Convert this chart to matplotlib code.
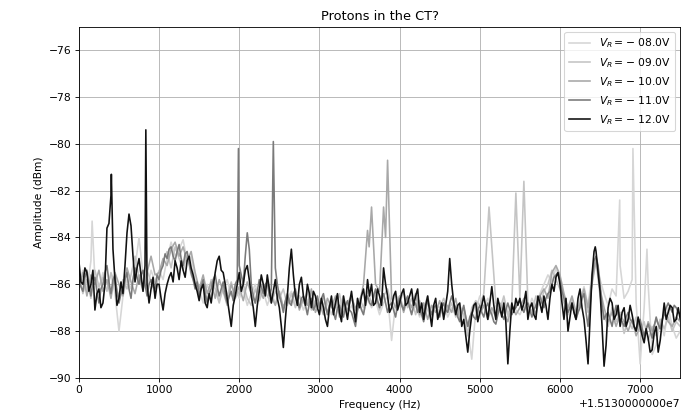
import numpy as np
import matplotlib
matplotlib.use("Agg")
import matplotlib.pyplot as plt
from matplotlib.ticker import ScalarFormatter

# ================= DATA =================
f0 = 15130000.0
freq_offsets = np.arange(0, 7501, 50)   # analyser grid, Hz above f0
mid_offsets = np.arange(25, 7500, 50)   # in-between points, only read for the darker traces

labels = ["08.0", "09.0", "10.0", "11.0", "12.0"]
colors = ["#d6d6d6", "#c4c4c4", "#a8a8a8", "#7a7a7a", "#111111"]

amp_08 = [
    -86.0, -85.4, -86.3, -85.0, -85.8, -86.2, -85.5, -86.0, -85.6, -86.4,
    -88.0, -86.5, -85.8, -86.2, -85.3, -84.0, -85.6, -86.2, -85.4, -85.9,
    -85.4, -85.8, -84.9, -84.2, -84.8, -84.5, -84.1, -85.0, -84.8, -85.8,
    -86.2, -86.8, -86.0, -86.5, -85.9, -86.7, -86.2, -85.8, -86.5, -86.1,
    -86.6, -86.2, -86.9, -86.4, -86.0, -86.7, -86.3, -86.9, -86.4, -86.8,
    -86.4, -87.0, -86.6, -86.3, -86.9, -86.5, -87.1, -86.7, -86.4, -87.0,
    -86.6, -87.1, -86.8, -87.3, -86.7, -87.0, -86.5, -87.2, -86.9, -87.4,
    -86.9, -87.2, -86.6, -87.0, -86.7, -87.3, -86.8, -86.5, -88.4, -86.8,
    -86.5, -87.0, -86.6, -87.2, -86.9, -87.4, -86.8, -87.1, -87.5, -86.9,
    -87.2, -86.8, -87.4, -87.0, -87.3, -86.9, -87.5, -88.0, -89.2, -87.1,
    -86.5, -87.0, -86.6, -87.3, -86.9, -87.2, -86.7, -87.4, -86.9, -87.1,
    -87.3, -86.9, -87.2, -86.6, -87.0, -86.4, -86.0, -85.6, -85.9, -85.3,
    -85.8, -86.5, -87.1, -86.7, -87.3, -86.6, -86.1, -86.9, -85.5, -84.9,
    -85.8, -86.4, -86.9, -86.2, -86.5, -85.2, -86.6, -86.3, -85.8, -86.8,
    -89.4, -87.0, -86.0, -89.0, -88.6, -87.5, -88.2, -87.0, -87.8, -88.3,
    -88.0,
]
amp_09 = [
    -85.6, -86.4, -85.8, -86.6, -85.4, -86.1, -85.7, -86.3, -85.5, -86.0,
    -86.5, -85.8, -86.2, -85.6, -84.8, -85.7, -86.3, -85.4, -85.9, -86.4,
    -85.6, -85.0, -84.6, -85.3, -84.4, -84.9, -85.4, -84.7, -85.6, -86.0,
    -86.4, -86.0, -86.7, -85.8, -86.2, -86.8, -86.1, -86.5, -85.9, -86.6,
    -86.3, -86.0, -86.6, -86.9, -86.2, -86.7, -86.0, -86.5, -86.8, -86.3,
    -86.6, -86.2, -86.9, -86.4, -87.0, -86.5, -86.8, -86.3, -87.1, -86.7,
    -86.9, -86.5, -87.2, -86.7, -87.0, -86.4, -87.3, -86.8, -86.5, -87.1,
    -86.6, -87.0, -86.3, -86.8, -86.4, -87.1, -86.5, -86.2, -86.9, -86.4,
    -86.8, -86.3, -87.0, -86.6, -87.3, -86.7, -87.1, -86.5, -87.4, -86.9,
    -87.0, -86.6, -87.2, -86.8, -87.4, -86.9, -87.3, -88.2, -87.0, -86.7,
    -86.9, -86.4, -83.6, -84.4, -86.8, -87.1, -86.5, -87.3, -86.8, -82.1,
    -86.6, -81.6, -86.8, -87.2, -86.5, -86.9, -86.3, -86.0, -85.4, -85.8,
    -86.2, -86.8, -87.3, -86.6, -87.5, -86.9, -86.4, -87.2, -86.0, -85.0,
    -86.5, -87.3, -87.8, -87.0, -87.6, -87.2, -88.1, -87.5, -87.9, -87.4,
    -88.0, -87.6, -88.4, -87.8, -88.2, -87.5, -87.9, -87.4, -88.0, -87.6,
    -87.8,
]
amp_10 = [
    -86.2, -85.5, -86.5, -85.6, -86.0, -85.4, -86.3, -85.8, -86.6, -85.5,
    -86.0, -86.5, -85.3, -85.9, -86.4, -85.6, -86.2, -85.5, -84.8, -85.6,
    -85.5, -84.9, -85.2, -84.5, -84.2, -84.8, -84.4, -85.0, -84.6, -85.5,
    -86.2, -85.6, -86.4, -85.9, -86.6, -85.8, -86.3, -86.9, -86.0, -86.5,
    -86.1, -86.7, -85.9, -86.4, -86.8, -86.2, -86.6, -85.8, -86.5, -86.9,
    -86.3, -87.0, -86.5, -86.8, -86.3, -87.1, -86.6, -86.9, -86.2, -87.2,
    -86.8, -87.3, -86.6, -87.0, -86.5, -87.4, -86.8, -87.1, -86.6, -87.0,
    -86.8, -86.0, -83.7, -82.7, -86.0, -86.3, -82.7, -80.7, -86.6, -87.0,
    -86.5, -87.2, -86.6, -87.0, -86.4, -87.3, -86.8, -87.5, -86.9, -87.2,
    -86.7, -87.4, -86.9, -87.2, -86.6, -87.5, -87.0, -87.8, -87.3, -86.8,
    -87.3, -86.9, -87.5, -87.0, -87.4, -86.8, -87.2, -87.6, -86.9, -87.3,
    -87.0, -86.6, -87.2, -86.8, -87.3, -86.5, -86.2, -86.6, -85.5, -85.2,
    -85.6, -86.4, -87.0, -86.5, -87.2, -86.8, -86.2, -87.0, -85.9, -84.9,
    -86.2, -87.0, -87.6, -87.2, -87.8, -87.3, -87.6, -88.0, -87.5, -88.2,
    -87.8, -88.3, -87.6, -88.0, -87.5, -87.9, -87.2, -87.6, -87.8, -87.4,
    -87.6,
]
amp_11 = [
    -85.8, -86.3, -85.4, -86.5, -85.7, -86.8, -86.0, -85.2, -86.4, -85.6,
    -86.8, -86.2, -85.5, -86.6, -85.3, -86.0, -85.4, -86.5, -85.8, -86.2,
    -85.8, -85.2, -84.9, -84.4, -85.0, -84.3, -85.2, -84.6, -85.5, -86.2,
    -86.5, -85.8, -86.8, -86.2, -85.6, -86.5, -85.9, -86.8, -86.3, -86.0,
    -85.2, -86.0, -83.8, -86.0, -86.8, -85.8, -86.4, -85.9, -86.2, -85.3,
    -86.5, -87.2, -86.4, -86.9, -86.2, -87.0, -86.5, -87.3, -86.6, -86.9,
    -87.0, -86.4, -87.3, -86.8, -87.5, -86.9, -87.4, -86.7, -87.2, -87.8,
    -86.8, -87.3, -86.5, -86.9, -86.2, -87.0, -86.4, -87.2, -86.8, -87.4,
    -86.6, -87.1, -86.5, -87.3, -86.8, -87.0, -87.6, -86.7, -87.3, -86.9,
    -87.4, -86.8, -87.2, -86.5, -87.0, -87.6, -86.9, -87.8, -87.2, -87.5,
    -86.9, -87.4, -86.8, -87.3, -87.7, -87.0, -87.5, -86.8, -87.3, -87.0,
    -86.7, -87.2, -86.8, -87.4, -86.9, -86.5, -87.0, -86.4, -86.0, -85.6,
    -85.8, -86.6, -87.2, -86.8, -87.5, -87.0, -86.4, -87.8, -85.8, -84.8,
    -86.0, -87.5, -87.2, -87.8, -86.9, -87.5, -87.8, -87.2, -87.6, -88.0,
    -87.5, -88.2, -87.7, -88.3, -87.4, -87.9, -87.3, -86.8, -87.2, -87.0,
    -87.3,
]
mid_11 = [
    -86.1, -85.7, -86.0, -85.9, -86.3, -86.2, -85.5, -85.9, -85.8, -86.3,
    -86.4, -85.8, -86.2, -85.8, -85.7, -85.6, -86.0, -86.0, -86.1, -85.6,
    -85.4, -84.7, -84.5, -84.8, -84.6, -84.9, -84.7, -85.1, -85.8, -85.9,
    -86.1, -86.4, -86.4, -85.8, -86.1, -86.2, -86.4, -86.5, -86.7, -85.8,
    -85.6, -84.8, -84.5, -86.5, -86.3, -86.1, -86.0, -86.5, -79.9, -86.0,
    -86.8, -86.7, -86.8, -86.4, -86.7, -86.6, -86.9, -86.8, -87.1, -86.5,
    -86.6, -86.9, -86.9, -87.2, -87.0, -87.2, -86.9, -87.1, -87.5, -87.1,
    -87.1, -86.8, -86.8, -86.5, -86.7, -86.6, -86.8, -86.9, -87.1, -86.9,
    -86.9, -86.7, -87.0, -86.9, -87.2, -87.3, -87.1, -87.0, -87.0, -87.2,
    -87.0, -87.1, -86.8, -86.8, -87.4, -87.2, -87.4, -87.4, -87.4, -87.1,
    -87.2, -87.0, -87.1, -87.6, -87.3, -87.3, -87.1, -87.1, -87.1, -86.8,
    -87.0, -86.9, -87.1, -87.1, -86.6, -86.8, -86.6, -86.3, -85.7, -85.5,
    -86.3, -86.9, -87.0, -87.2, -87.2, -86.6, -87.2, -86.9, -85.0, -85.2,
    -86.9, -87.3, -87.5, -87.3, -87.3, -87.6, -87.4, -87.5, -87.8, -87.7,
    -87.9, -87.9, -88.0, -87.8, -87.7, -87.5, -87.0, -87.0, -86.9, -87.2,
]
amp_12 = [
    -85.0, -86.0, -85.5, -86.0, -87.1, -86.2, -86.8, -83.6, -82.2, -85.8,
    -86.6, -86.4, -83.8, -83.5, -85.9, -84.9, -86.3, -86.0, -86.2, -86.6,
    -86.0, -87.1, -86.0, -85.5, -85.0, -85.8, -85.4, -85.0, -85.3, -86.0,
    -86.7, -86.0, -87.0, -86.8, -85.5, -84.8, -85.5, -86.6, -87.8, -86.5,
    -85.5, -86.0, -85.2, -86.5, -87.8, -86.3, -86.0, -85.6, -86.8, -85.8,
    -87.0, -88.7, -86.5, -84.5, -86.5, -86.0, -86.5, -86.0, -87.0, -86.5,
    -87.3, -87.0, -87.8, -86.5, -86.8, -87.2, -86.5, -87.5, -86.3, -87.6,
    -87.0, -86.2, -85.8, -86.0, -86.8, -86.5, -85.3, -86.5, -87.0, -86.3,
    -86.8, -86.2, -86.8, -86.2, -86.5, -87.2, -87.5, -86.5, -87.8, -86.6,
    -87.2, -87.5, -86.3, -86.0, -87.3, -86.8, -87.5, -88.9, -87.3, -86.8,
    -87.2, -86.5, -87.5, -86.1, -87.5, -87.0, -86.8, -89.4, -86.8, -86.6,
    -86.6, -86.8, -87.5, -86.8, -87.5, -86.8, -86.5, -87.5, -86.0, -85.7,
    -86.0, -87.5, -88.0, -86.8, -87.5, -86.2, -87.5, -89.4, -85.6, -84.6,
    -86.3, -89.5, -87.0, -86.8, -87.3, -87.8, -87.0, -87.5, -87.3, -88.0,
    -87.8, -88.5, -88.3, -88.8, -87.8, -88.4, -86.8, -87.2, -87.0, -87.5,
    -87.5,
]
mid_12 = [
    -85.9, -85.3, -86.3, -85.4, -86.4, -87.0, -86.0, -83.4, -84.5, -86.9,
    -85.9, -85.2, -83.0, -84.8, -85.3, -85.6, -85.2, -86.8, -85.7, -86.0,
    -86.6, -86.4, -85.7, -85.9, -85.3, -85.0, -85.7, -84.8, -85.6, -86.3,
    -86.2, -86.8, -86.4, -86.1, -85.0, -85.4, -86.0, -87.2, -86.9, -86.0,
    -86.3, -85.4, -85.8, -87.0, -86.9, -85.6, -86.5, -86.2, -86.3, -86.6,
    -87.8, -87.5, -85.3, -85.6, -86.9, -85.7, -86.9, -86.4, -86.3, -87.0,
    -86.6, -87.5, -87.0, -87.3, -86.4, -87.6, -87.0, -86.8, -87.0, -86.6,
    -86.5, -86.9, -86.5, -86.9, -86.2, -86.9, -86.0, -87.2, -86.5, -87.1,
    -86.4, -86.9, -86.5, -86.9, -86.2, -86.8, -86.9, -87.2, -86.9, -87.5,
    -86.8, -86.9, -84.9, -86.8, -86.9, -87.8, -88.2, -88.0, -86.9, -87.6,
    -86.9, -87.0, -86.8, -86.9, -86.6, -87.4, -87.6, -88.0, -87.2, -86.9,
    -87.1, -86.3, -87.0, -87.3, -86.5, -87.2, -86.9, -86.6, -86.3, -85.5,
    -86.8, -86.6, -87.4, -87.2, -86.6, -87.0, -88.4, -87.5, -84.6, -85.5,
    -87.8, -88.6, -86.6, -87.5, -86.9, -87.2, -87.8, -86.9, -87.8, -87.4,
    -88.2, -87.9, -88.9, -88.1, -88.9, -87.6, -87.5, -86.9, -87.6, -87.0,
]

# narrow lines that sit off the grid (offset Hz, amplitude dBm)
peak_f_08 = [165, 6745, 6910, 7085]
peak_a_08 = [-83.3, -82.4, -80.2, -84.5]
peak_f_09 = [5115]
peak_a_09 = [-82.7]
peak_f_10 = [3620, 3825]
peak_a_10 = [-84.4, -84.0]
peak_f_11 = [1990]
peak_a_11 = [-80.2]
peak_f_12 = [405, 835, 6440]
peak_a_12 = [-81.3, -79.4, -84.4]

series = [
    (amp_08, [], peak_f_08, peak_a_08),
    (amp_09, [], peak_f_09, peak_a_09),
    (amp_10, [], peak_f_10, peak_a_10),
    (amp_11, mid_11, peak_f_11, peak_a_11),
    (amp_12, mid_12, peak_f_12, peak_a_12),
]


class OldOffsetFormatter(ScalarFormatter):
    # offset written like "+1.5130000000e7"
    def format_data(self, value):
        mant, exp = ("%1.10e" % value).split("e")
        return "%se%d" % (mant, int(exp))


# ================= PLOT =================
# the reference looks like a bigger figure shrunk down, so use a low dpi
dpi = 77.5
fig = plt.figure(figsize=(692 / dpi, 413 / dpi), dpi=dpi)
ax = fig.add_axes([0.114, 0.085, 0.869, 0.85])

for (amps, mids, pf, pa), lab, col in zip(series, labels, colors):
    xm = mid_offsets if len(mids) else []
    x = np.concatenate([freq_offsets, xm, pf]).astype(float)
    y = np.concatenate([amps, mids, pa])
    order = np.argsort(x, kind="stable")
    ax.plot(f0 + x[order], y[order], color=col, lw=1.5,
            label=r"$V_R = -$ " + lab + "V")

ax.set_xlim(f0, f0 + 7500)
ax.set_ylim(-90, -75)
ax.set_yticks(np.arange(-90, -75, 2))
ax.xaxis.set_major_formatter(OldOffsetFormatter())
ax.grid(True)
ax.set_title("Protons in the CT?")
ax.set_xlabel("Frequency (Hz)")
ax.set_ylabel("Amplitude (dBm)")
ax.legend(loc="upper right")

fig.savefig("out.png", dpi=dpi)
